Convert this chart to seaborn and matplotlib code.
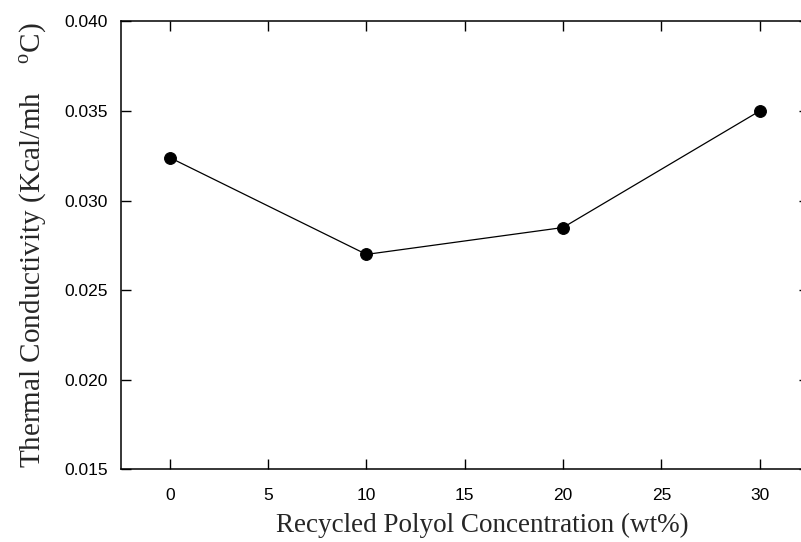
import matplotlib
matplotlib.use("Agg")
import matplotlib.pyplot as plt
import seaborn as sns
import pandas as pd

# Thermal conductivity of foams vs recycled polyol content
concentration = [0, 10, 20, 30]
conductivity = [0.0324, 0.0270, 0.0285, 0.0350]
x_ticks = [0, 5, 10, 15, 20, 25, 30]
y_ticks = [0.015, 0.020, 0.025, 0.030, 0.035, 0.040]

df = pd.DataFrame({"conc": concentration, "k": conductivity})

sns.set_style("ticks")
plt.rcParams["font.family"] = ["Liberation Sans", "DejaVu Sans"]
plt.rcParams["mathtext.fontset"] = "custom"
plt.rcParams["mathtext.rm"] = "Liberation Serif"

fig = plt.figure(figsize=(8.01, 5.42), dpi=100)
ax = fig.add_axes([0.1507, 0.1338, 0.859, 0.8267])

sns.lineplot(data=df, x="conc", y="k", ax=ax, color="black", linewidth=0.9,
             marker="o", markersize=8.5, markeredgecolor="black",
             markerfacecolor="black")

ax.set_xlim(-2.5, 32.5)
ax.set_ylim(0.015, 0.040)
ax.set_xticks(x_ticks)
ax.set_yticks(y_ticks)
ax.set_xticklabels([str(v) for v in x_ticks])
ax.set_yticklabels([f"{v:.3f}" for v in y_ticks])
ax.tick_params(direction="in", length=7, width=1.0, top=True, right=True,
               labelsize=12.5, colors="black")
ax.tick_params(axis="x", pad=13)
ax.tick_params(axis="y", pad=9)
for s in ax.spines.values():
    s.set_linewidth(1.1)
    s.set_color("black")

ax.set_xlabel("Recycled Polyol Concentration (wt%)", family="Liberation Serif",
              fontsize=19.5)
ax.xaxis.set_label_coords(0.525, -0.097)
ax.set_ylabel("Thermal Conductivity (Kcal/mh    $^{\\mathrm{o}}$C)",
              family="Liberation Serif", fontsize=21, labelpad=11)

fig.savefig("out.png", dpi=100)
